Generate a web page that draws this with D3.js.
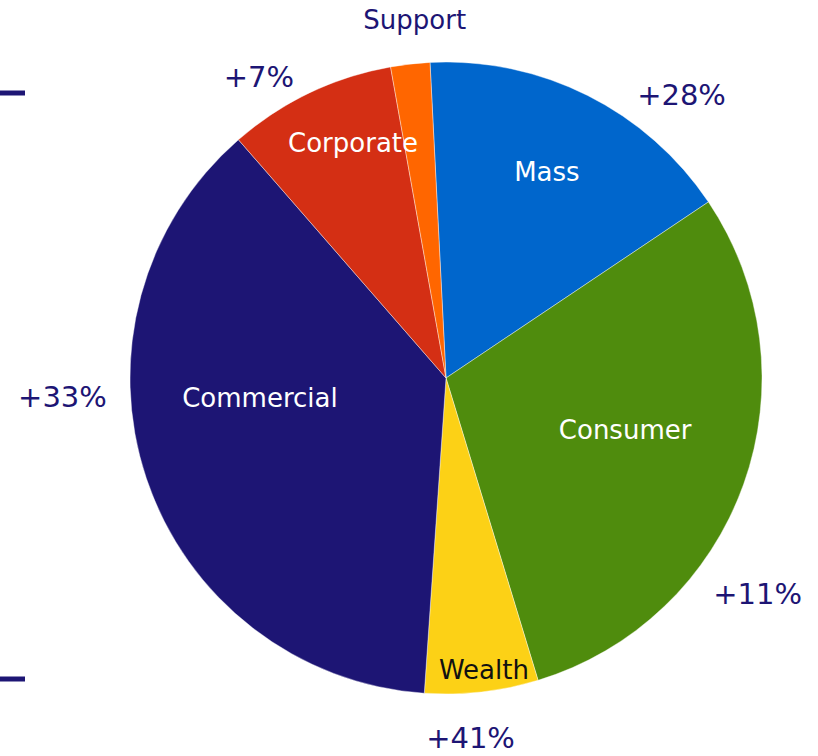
<!DOCTYPE html>
<html>
<head>
<meta charset="utf-8">
<script src="https://cdn.jsdelivr.net/npm/d3@7"></script>
<style>
  html, body { margin: 0; padding: 0; background: #fff; }
  svg { display: block; }
  text { font-family: "DejaVu Sans", Verdana, sans-serif; }
</style>
</head>
<body>
<svg id="chart" width="818" height="756"></svg>
<script>
// Segment shares of the total (clockwise from the top)
const segments = ["Mass", "Consumer", "Wealth", "Commercial", "Corporate", "Support"];
const shares   = [16.4, 29.7, 5.8, 37.5, 8.6, 2.0];
const colors   = ["#0066cc", "#4f8c0d", "#fcd116", "#1d1574", "#d42f14", "#ff6600"];
const labelInk = ["#ffffff", "#ffffff", "#111111", "#ffffff", "#ffffff", "#1d1574"];

// Growth call-outs per segment
const growthSegments = ["Mass", "Consumer", "Wealth", "Commercial", "Corporate"];
const growthLabels   = ["+28%", "+11%", "+41%", "+33%", "+7%"];

const W = 818, H = 756;
const cx = 446, cy = 378, R = 316;
const navy = "#1d1574";
const deg = Math.PI / 180;

const svg = d3.select("#chart");
const g = svg.append("g").attr("transform", `translate(${cx},${cy})`);

const rows = segments.map((s, i) => ({ name: s, value: shares[i], color: colors[i], ink: labelInk[i] }));

const pie = d3.pie()
  .sort(null)
  .value(d => d.value)
  .startAngle(-2.9 * deg)
  .endAngle(2 * Math.PI - 2.9 * deg);

const arc = d3.arc().innerRadius(0).outerRadius(R);
const arcs = pie(rows);

g.selectAll("path.slice")
  .data(arcs)
  .join("path")
  .attr("class", "slice")
  .attr("d", arc)
  .attr("fill", d => d.data.color)
  .attr("stroke", "#ffffff")
  .attr("stroke-width", 0.4);

// Name label placement: radius as a fraction of R, and an angular nudge from the slice middle
const nameRadius = { Mass: 0.725, Consumer: 0.59, Wealth: 0.932, Commercial: 0.592, Corporate: 0.80, Support: 1.137 };
const nameAngleShift = { Mass: -0.5, Consumer: -3.5, Wealth: -0.9, Commercial: 12.5, Corporate: 4, Support: 1.5 };

function namePos(d) {
  const a = (d.startAngle + d.endAngle) / 2 + nameAngleShift[d.data.name] * deg;
  const r = R * nameRadius[d.data.name];
  return [Math.sin(a) * r, -Math.cos(a) * r];
}

g.selectAll("text.name")
  .data(arcs)
  .join("text")
  .attr("class", "name")
  .attr("text-anchor", "middle")
  .attr("dominant-baseline", "central")
  .attr("font-size", 26)
  .attr("fill", d => d.data.ink)
  .attr("x", d => namePos(d)[0])
  .attr("y", d => namePos(d)[1])
  .text(d => d.data.name);

// Growth call-outs placed around the rim (angle clockwise from top, distance from centre)
const calloutPolar = {
  Mass:       { angle: 39.8,  r: 368 },
  Consumer:   { angle: 124.7, r: 379 },
  Wealth:     { angle: 176.1, r: 361 },
  Commercial: { angle: 267.2, r: 384 },
  Corporate:  { angle: 328.1, r: 354 }
};

g.selectAll("text.growth")
  .data(growthSegments.map((s, i) => ({ seg: s, label: growthLabels[i] })))
  .join("text")
  .attr("class", "growth")
  .attr("text-anchor", "middle")
  .attr("dominant-baseline", "central")
  .attr("font-size", 29)
  .attr("fill", navy)
  .attr("x", d => Math.sin(calloutPolar[d.seg].angle * deg) * calloutPolar[d.seg].r)
  .attr("y", d => -Math.cos(calloutPolar[d.seg].angle * deg) * calloutPolar[d.seg].r)
  .text(d => d.label);

// Short marker bars on the left edge
svg.selectAll("line.marker")
  .data([93, 679])
  .join("line")
  .attr("class", "marker")
  .attr("x1", 0).attr("x2", 25)
  .attr("y1", d => d).attr("y2", d => d)
  .attr("stroke", navy)
  .attr("stroke-width", 5);
</script>
</body>
</html>
